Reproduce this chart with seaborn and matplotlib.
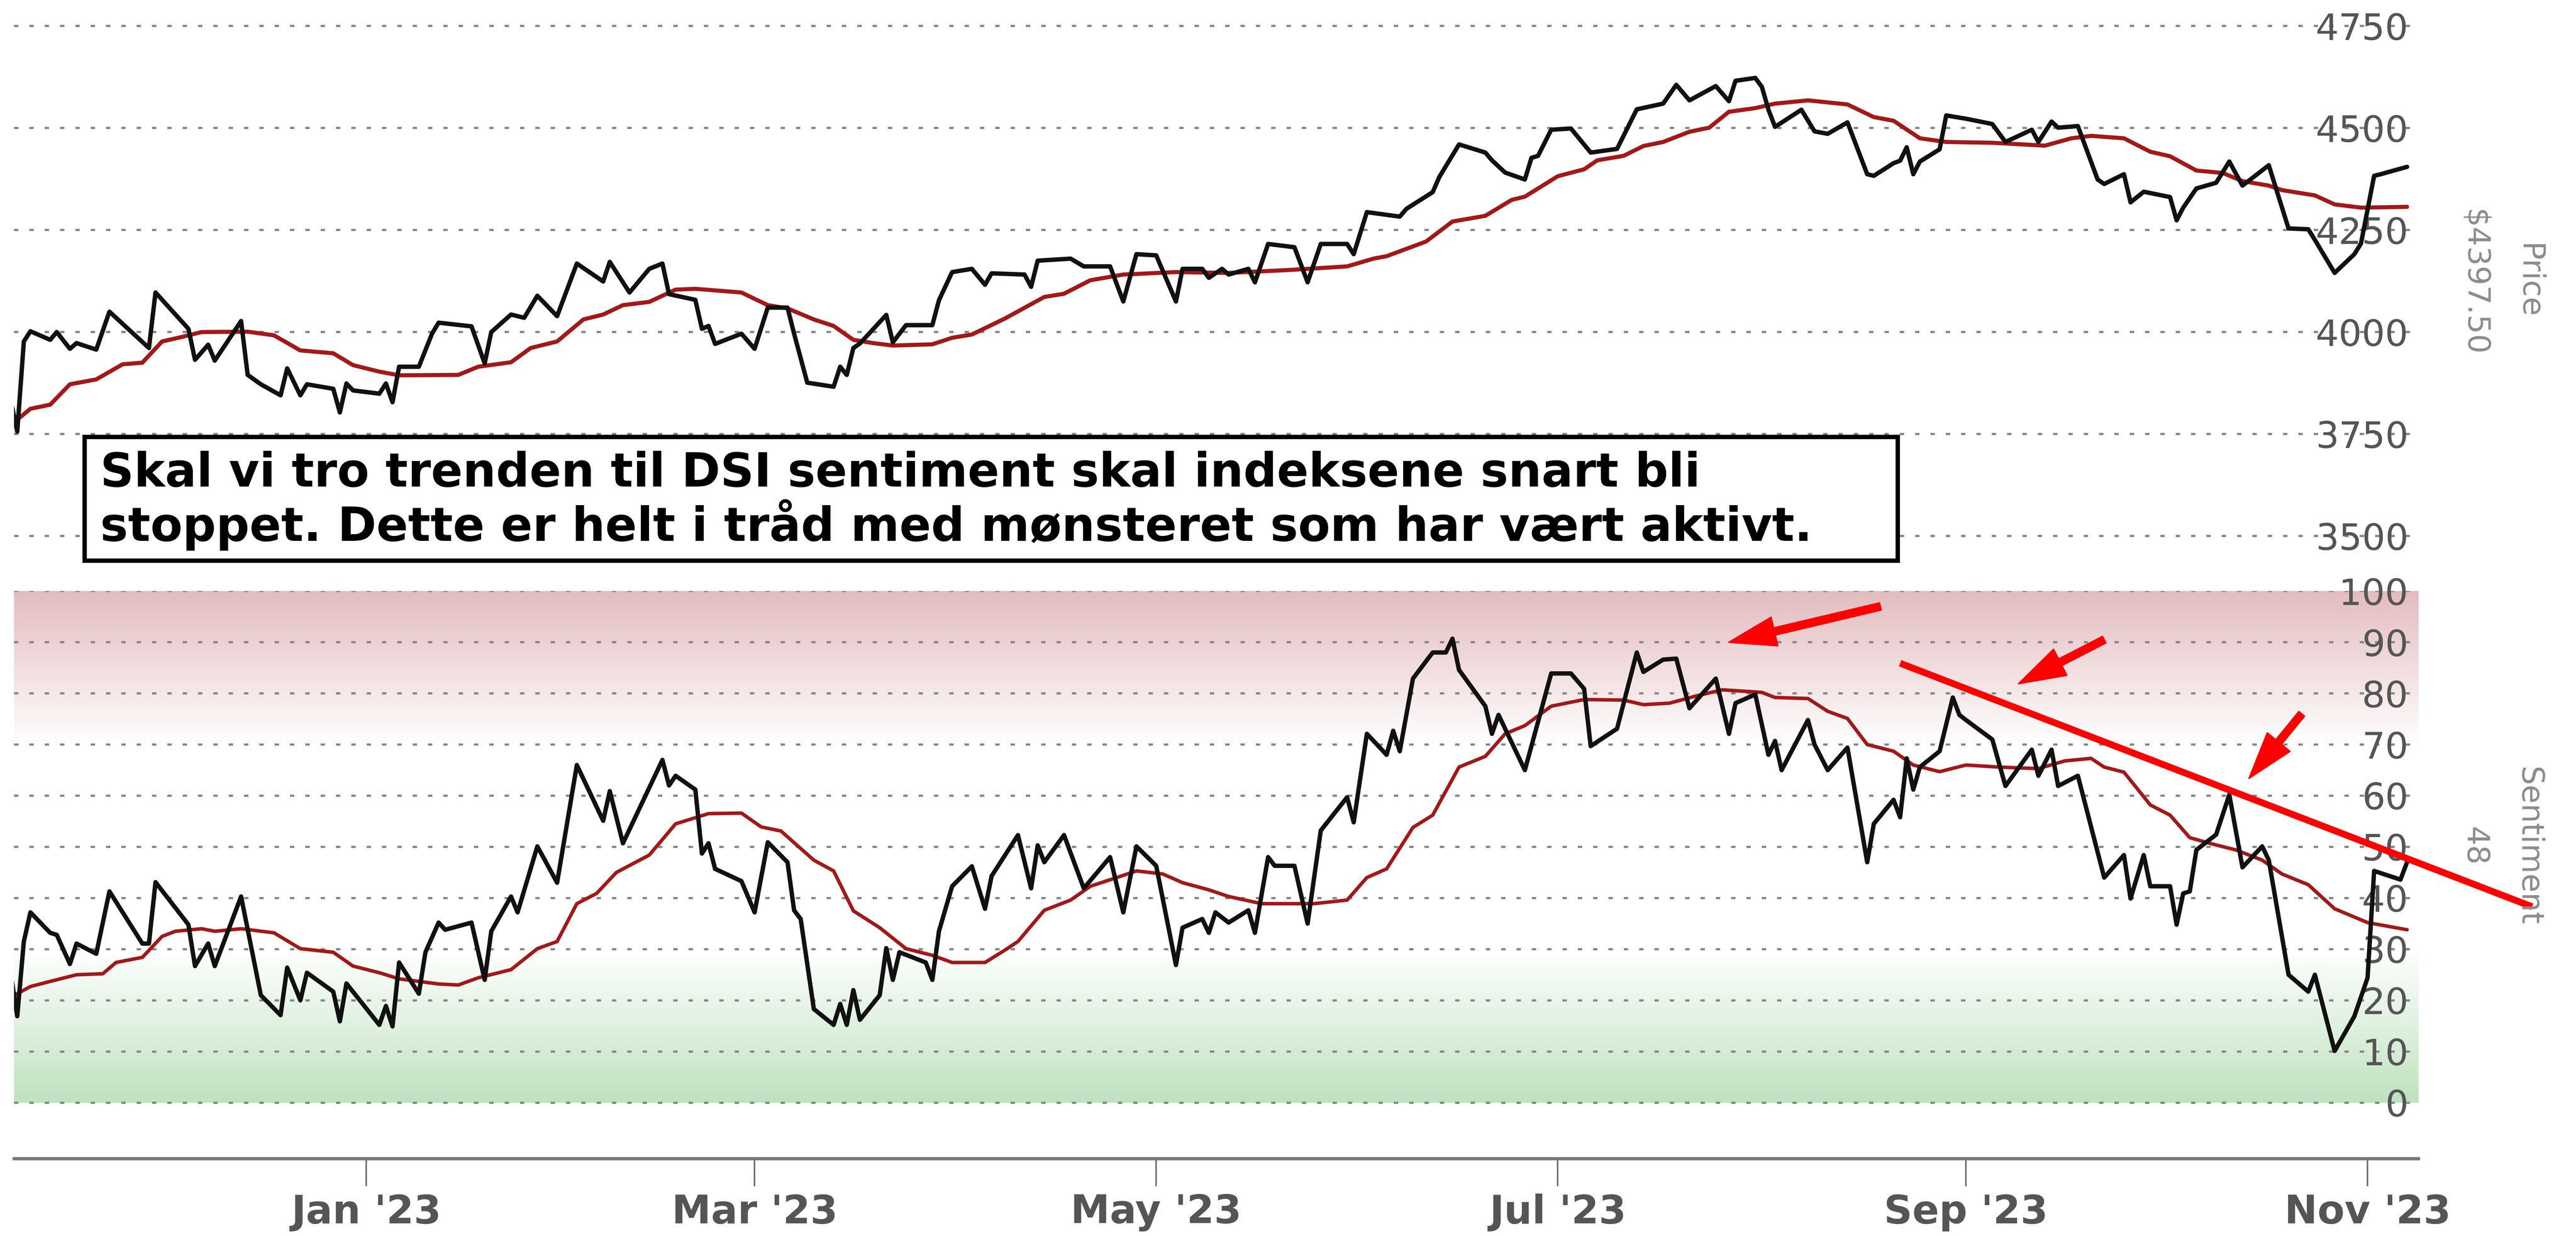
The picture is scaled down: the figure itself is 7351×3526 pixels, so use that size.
import numpy as np
import pandas as pd
import seaborn as sns
import matplotlib.pyplot as plt
import matplotlib.dates as mdates
from matplotlib.patches import Rectangle
from matplotlib.colors import LinearSegmentedColormap

# =========================
# DATA
# =========================
price_dates = [
    "2022-11-08", "2022-11-09", "2022-11-10", "2022-11-11", "2022-11-14", "2022-11-15", "2022-11-17",
    "2022-11-18", "2022-11-21", "2022-11-23", "2022-11-29", "2022-11-30", "2022-12-05", "2022-12-06",
    "2022-12-08", "2022-12-09", "2022-12-13", "2022-12-14", "2022-12-16", "2022-12-19", "2022-12-20",
    "2022-12-22", "2022-12-23", "2022-12-27", "2022-12-28", "2022-12-29", "2022-12-30", "2023-01-03",
    "2023-01-04", "2023-01-05", "2023-01-06", "2023-01-09", "2023-01-11", "2023-01-12", "2023-01-17",
    "2023-01-19", "2023-01-20", "2023-01-23", "2023-01-25", "2023-01-27", "2023-01-30", "2023-02-02",
    "2023-02-06", "2023-02-07", "2023-02-10", "2023-02-13", "2023-02-15", "2023-02-16", "2023-02-20",
    "2023-02-21", "2023-02-22", "2023-02-23", "2023-02-27", "2023-03-01", "2023-03-03", "2023-03-06",
    "2023-03-07", "2023-03-09", "2023-03-13", "2023-03-14", "2023-03-15", "2023-03-16", "2023-03-17",
    "2023-03-21", "2023-03-22", "2023-03-24", "2023-03-28", "2023-03-29", "2023-03-31", "2023-04-03",
    "2023-04-05", "2023-04-06", "2023-04-11", "2023-04-12", "2023-04-13", "2023-04-18", "2023-04-20",
    "2023-04-24", "2023-04-26", "2023-04-28", "2023-05-01", "2023-05-04", "2023-05-05", "2023-05-08",
    "2023-05-09", "2023-05-11", "2023-05-12", "2023-05-15", "2023-05-16", "2023-05-18", "2023-05-22",
    "2023-05-24", "2023-05-26", "2023-05-30", "2023-05-31", "2023-06-02", "2023-06-07", "2023-06-08",
    "2023-06-12", "2023-06-13", "2023-06-16", "2023-06-20", "2023-06-21", "2023-06-23", "2023-06-26",
    "2023-06-27", "2023-06-28", "2023-06-30", "2023-07-03", "2023-07-06", "2023-07-10", "2023-07-13",
    "2023-07-17", "2023-07-19", "2023-07-21", "2023-07-25", "2023-07-27", "2023-07-28", "2023-07-31",
    "2023-08-01", "2023-08-02", "2023-08-03", "2023-08-07", "2023-08-09", "2023-08-11", "2023-08-14",
    "2023-08-17", "2023-08-18", "2023-08-21", "2023-08-22", "2023-08-23", "2023-08-24", "2023-08-25",
    "2023-08-28", "2023-08-29", "2023-09-01", "2023-09-05", "2023-09-07", "2023-09-11", "2023-09-12",
    "2023-09-14", "2023-09-15", "2023-09-18", "2023-09-21", "2023-09-22", "2023-09-25", "2023-09-26",
    "2023-09-28", "2023-10-02", "2023-10-03", "2023-10-04", "2023-10-06", "2023-10-09", "2023-10-11",
    "2023-10-13", "2023-10-17", "2023-10-18", "2023-10-20", "2023-10-23", "2023-10-24", "2023-10-27",
    "2023-10-30", "2023-10-31", "2023-11-02", "2023-11-03", "2023-11-07",
]
price_vals = [
    3834, 3756, 3977, 4002, 3981, 4000, 3959,
    3973, 3957, 4050, 3961, 4097, 4008, 3932,
    3969, 3930, 4027, 3895, 3872, 3845, 3911,
    3845, 3872, 3861, 3803, 3874, 3857, 3849,
    3874, 3828, 3915, 3915, 3996, 4023, 4014,
    3923, 4000, 4043, 4035, 4089, 4039, 4168,
    4124, 4172, 4097, 4155, 4168, 4093, 4079,
    4008, 4015, 3971, 3996, 3959, 4060, 4060,
    3996, 3876, 3866, 3915, 3895, 3961, 3972,
    4042, 3975, 4017, 4017, 4078, 4147, 4155,
    4116, 4144, 4141, 4111, 4175, 4180, 4161,
    4161, 4075, 4191, 4188, 4075, 4155, 4155,
    4133, 4155, 4141, 4155, 4122, 4216, 4208,
    4122, 4216, 4216, 4191, 4294, 4283, 4302,
    4343, 4380, 4460, 4440, 4421, 4391, 4374,
    4427, 4432, 4496, 4499, 4440, 4449, 4546,
    4560, 4606, 4568, 4603, 4566, 4616, 4623,
    4601, 4545, 4503, 4545, 4492, 4486, 4514,
    4387, 4383, 4414, 4420, 4453, 4387, 4418,
    4448, 4531, 4523, 4510, 4466, 4496, 4466,
    4516, 4501, 4505, 4374, 4363, 4387, 4318,
    4344, 4331, 4274, 4305, 4352, 4366, 4418,
    4359, 4409, 4357, 4254, 4252, 4226, 4145,
    4191, 4217, 4383, 4387, 4405,
]

price_ma_dates = [
    "2022-11-08", "2022-11-11", "2022-11-14", "2022-11-17", "2022-11-21", "2022-11-25", "2022-11-28",
    "2022-12-01", "2022-12-04", "2022-12-07", "2022-12-14", "2022-12-18", "2022-12-22", "2022-12-27",
    "2022-12-30", "2023-01-03", "2023-01-06", "2023-01-15", "2023-01-18", "2023-01-23", "2023-01-26",
    "2023-01-30", "2023-02-03", "2023-02-06", "2023-02-09", "2023-02-13", "2023-02-17", "2023-02-20",
    "2023-02-27", "2023-03-03", "2023-03-06", "2023-03-10", "2023-03-13", "2023-03-16", "2023-03-19",
    "2023-03-22", "2023-03-28", "2023-03-31", "2023-04-03", "2023-04-08", "2023-04-14", "2023-04-17",
    "2023-04-21", "2023-04-26", "2023-05-04", "2023-05-12", "2023-05-21", "2023-05-30", "2023-06-03",
    "2023-06-05", "2023-06-11", "2023-06-15", "2023-06-20", "2023-06-24", "2023-06-26", "2023-07-01",
    "2023-07-05", "2023-07-07", "2023-07-11", "2023-07-14", "2023-07-17", "2023-07-21", "2023-07-24",
    "2023-07-27", "2023-07-31", "2023-08-03", "2023-08-08", "2023-08-14", "2023-08-18", "2023-08-21",
    "2023-08-25", "2023-08-29", "2023-09-05", "2023-09-13", "2023-09-17", "2023-09-20", "2023-09-25",
    "2023-09-29", "2023-10-02", "2023-10-06", "2023-10-10", "2023-10-13", "2023-10-17", "2023-10-19",
    "2023-10-24", "2023-10-27", "2023-10-31", "2023-11-07",
]
price_ma_vals = [
    3772, 3812, 3822, 3872, 3884, 3921, 3925,
    3977, 3988, 4000, 4001, 3992, 3955, 3948,
    3919, 3903, 3894, 3895, 3915, 3926, 3961,
    3977, 4031, 4043, 4066, 4074, 4104, 4106,
    4097, 4066, 4058, 4031, 4015, 3981, 3973,
    3967, 3970, 3986, 3994, 4033, 4086, 4094,
    4127, 4141, 4147, 4145, 4152, 4161, 4180,
    4186, 4222, 4271, 4285, 4324, 4332, 4382,
    4399, 4421, 4432, 4456, 4466, 4491, 4501,
    4540, 4549, 4560, 4568, 4558, 4527, 4518,
    4475, 4466, 4464, 4457, 4475, 4481, 4475,
    4442, 4431, 4396, 4390, 4370, 4359, 4348,
    4335, 4313, 4305, 4307,
]

sent_dates = [
    "2022-11-08", "2022-11-09", "2022-11-10", "2022-11-11", "2022-11-14", "2022-11-15", "2022-11-17",
    "2022-11-18", "2022-11-21", "2022-11-23", "2022-11-28", "2022-11-29", "2022-11-30", "2022-12-05",
    "2022-12-06", "2022-12-08", "2022-12-09", "2022-12-13", "2022-12-16", "2022-12-19", "2022-12-20",
    "2022-12-22", "2022-12-23", "2022-12-27", "2022-12-28", "2022-12-29", "2023-01-03", "2023-01-04",
    "2023-01-05", "2023-01-06", "2023-01-09", "2023-01-10", "2023-01-12", "2023-01-13", "2023-01-17",
    "2023-01-19", "2023-01-20", "2023-01-23", "2023-01-24", "2023-01-27", "2023-01-30", "2023-02-02",
    "2023-02-06", "2023-02-07", "2023-02-09", "2023-02-15", "2023-02-16", "2023-02-17", "2023-02-20",
    "2023-02-21", "2023-02-22", "2023-02-23", "2023-02-27", "2023-03-01", "2023-03-03", "2023-03-06",
    "2023-03-07", "2023-03-08", "2023-03-10", "2023-03-13", "2023-03-14", "2023-03-15", "2023-03-16",
    "2023-03-17", "2023-03-20", "2023-03-21", "2023-03-22", "2023-03-23", "2023-03-27", "2023-03-28",
    "2023-03-29", "2023-03-31", "2023-04-03", "2023-04-05", "2023-04-06", "2023-04-10", "2023-04-12",
    "2023-04-13", "2023-04-14", "2023-04-17", "2023-04-20", "2023-04-24", "2023-04-26", "2023-04-28",
    "2023-05-01", "2023-05-04", "2023-05-05", "2023-05-08", "2023-05-09", "2023-05-10", "2023-05-12",
    "2023-05-15", "2023-05-16", "2023-05-18", "2023-05-19", "2023-05-22", "2023-05-24", "2023-05-26",
    "2023-05-30", "2023-05-31", "2023-06-02", "2023-06-05", "2023-06-06", "2023-06-07", "2023-06-09",
    "2023-06-12", "2023-06-14", "2023-06-15", "2023-06-16", "2023-06-20", "2023-06-21", "2023-06-22",
    "2023-06-26", "2023-06-30", "2023-07-03", "2023-07-05", "2023-07-06", "2023-07-10", "2023-07-13",
    "2023-07-14", "2023-07-17", "2023-07-19", "2023-07-21", "2023-07-25", "2023-07-27", "2023-07-28",
    "2023-07-31", "2023-08-02", "2023-08-03", "2023-08-04", "2023-08-08", "2023-08-09", "2023-08-11",
    "2023-08-14", "2023-08-17", "2023-08-18", "2023-08-21", "2023-08-22", "2023-08-23", "2023-08-24",
    "2023-08-25", "2023-08-28", "2023-08-30", "2023-08-31", "2023-09-01", "2023-09-05", "2023-09-07",
    "2023-09-11", "2023-09-12", "2023-09-14", "2023-09-15", "2023-09-18", "2023-09-22", "2023-09-25",
    "2023-09-26", "2023-09-28", "2023-09-29", "2023-10-02", "2023-10-03", "2023-10-04", "2023-10-05",
    "2023-10-06", "2023-10-09", "2023-10-11", "2023-10-13", "2023-10-16", "2023-10-17", "2023-10-20",
    "2023-10-23", "2023-10-24", "2023-10-27", "2023-10-30", "2023-11-01", "2023-11-02", "2023-11-06",
    "2023-11-07",
]
sent_vals = [
    25.4, 16.9, 31.5, 37.2, 33.2, 32.8, 27.1,
    31.1, 29.1, 41.3, 31.1, 31.1, 43.1, 34.8,
    26.7, 31.1, 26.7, 40.3, 21.0, 17.1, 26.4,
    20.0, 25.4, 21.7, 15.9, 23.3, 15.2, 18.9,
    14.9, 27.4, 21.3, 29.4, 35.2, 33.8, 35.2,
    24.0, 33.5, 40.3, 37.2, 50.1, 43.0, 66.0,
    55.1, 60.9, 50.7, 67.0, 62.0, 63.9, 61.2,
    48.7, 50.7, 45.7, 43.3, 37.2, 50.9, 47.0,
    37.6, 35.9, 18.3, 15.2, 19.3, 15.2, 22.0,
    16.2, 21.0, 30.2, 24.0, 29.4, 27.4, 24.0,
    33.5, 42.3, 46.2, 37.9, 44.3, 52.3, 41.9,
    50.3, 47.0, 52.3, 41.9, 48.0, 37.2, 50.1,
    46.3, 26.9, 34.2, 35.9, 33.2, 37.2, 35.2,
    37.6, 33.2, 48.0, 46.3, 46.3, 35.0, 53.2,
    59.7, 54.8, 72.1, 68.0, 72.7, 68.7, 82.9,
    88.0, 88.0, 90.7, 84.6, 77.5, 72.1, 75.8,
    65.0, 83.9, 83.9, 80.9, 69.7, 73.1, 88.0,
    84.2, 86.6, 86.8, 77.1, 82.9, 72.1, 78.1,
    79.8, 68.0, 70.7, 65.0, 74.8, 70.0, 65.0,
    69.4, 47.0, 54.5, 59.2, 55.8, 67.3, 61.2,
    65.6, 68.7, 79.2, 75.8, 74.8, 71.0, 61.9,
    69.0, 63.9, 69.0, 61.9, 63.9, 44.0, 48.4,
    39.9, 48.4, 42.3, 42.3, 34.8, 40.9, 41.3,
    49.4, 52.4, 60.2, 46.0, 50.1, 47.4, 25.0,
    21.7, 25.0, 10.1, 16.9, 24.4, 45.3, 43.6,
    47.0,
]

sent_ma_dates = [
    "2022-11-08", "2022-11-11", "2022-11-14", "2022-11-18", "2022-11-22", "2022-11-24", "2022-11-28",
    "2022-12-01", "2022-12-03", "2022-12-07", "2022-12-09", "2022-12-13", "2022-12-18", "2022-12-22",
    "2022-12-27", "2022-12-30", "2023-01-03", "2023-01-06", "2023-01-12", "2023-01-15", "2023-01-18",
    "2023-01-23", "2023-01-27", "2023-01-30", "2023-02-02", "2023-02-05", "2023-02-08", "2023-02-13",
    "2023-02-17", "2023-02-22", "2023-02-27", "2023-03-02", "2023-03-05", "2023-03-10", "2023-03-13",
    "2023-03-16", "2023-03-20", "2023-03-24", "2023-03-28", "2023-03-31", "2023-04-05", "2023-04-08",
    "2023-04-10", "2023-04-14", "2023-04-18", "2023-04-21", "2023-04-25", "2023-04-28", "2023-05-02",
    "2023-05-05", "2023-05-09", "2023-05-12", "2023-05-17", "2023-05-25", "2023-05-30", "2023-06-02",
    "2023-06-05", "2023-06-09", "2023-06-12", "2023-06-16", "2023-06-20", "2023-06-23", "2023-06-26",
    "2023-06-30", "2023-07-05", "2023-07-11", "2023-07-14", "2023-07-18", "2023-07-22", "2023-07-26",
    "2023-08-01", "2023-08-03", "2023-08-08", "2023-08-11", "2023-08-14", "2023-08-17", "2023-08-21",
    "2023-08-24", "2023-08-28", "2023-09-01", "2023-09-06", "2023-09-12", "2023-09-16", "2023-09-20",
    "2023-09-22", "2023-09-25", "2023-09-29", "2023-10-02", "2023-10-05", "2023-10-08", "2023-10-12",
    "2023-10-16", "2023-10-19", "2023-10-23", "2023-10-27", "2023-11-01", "2023-11-07",
]
sent_ma_vals = [
    20.6, 22.7, 23.7, 25.0, 25.2, 27.4, 28.4,
    32.5, 33.5, 34.0, 33.5, 34.0, 33.2, 30.1,
    29.4, 26.7, 25.4, 24.2, 23.2, 23.0, 24.4,
    26.0, 30.1, 31.5, 38.9, 40.9, 45.0, 48.4,
    54.5, 56.5, 56.6, 53.9, 53.1, 47.4, 45.3,
    37.5, 34.2, 30.1, 28.8, 27.4, 27.4, 29.8,
    31.5, 37.6, 39.6, 42.3, 44.0, 45.3, 44.7,
    43.0, 41.6, 40.3, 38.9, 38.9, 39.6, 44.0,
    45.7, 53.8, 56.2, 65.6, 67.7, 72.1, 73.7,
    77.5, 78.8, 78.7, 77.8, 78.1, 79.5, 80.7,
    80.2, 79.2, 79.0, 76.5, 75.1, 70.0, 68.7,
    66.0, 64.7, 66.0, 65.6, 65.3, 66.8, 67.3,
    65.6, 64.6, 58.2, 56.2, 51.8, 50.7, 49.4,
    47.4, 44.7, 42.6, 37.9, 35.2, 33.8,
]

price_ticks = [3500, 3750, 4000, 4250, 4500, 4750]
sent_ticks = [0, 10, 20, 30, 40, 50, 60, 70, 80, 90, 100]

last_price_label = "\\$4397.50"
last_sent_label = "48"

note_lines = [
    "Skal vi tro trenden til DSI sentiment skal indeksene snart bli",
    "stoppet. Dette er helt i tråd med mønsteret som har vært aktivt.",
]

# hand drawn marks on the sentiment panel (date, value)
arrow_tails = [("2023-08-19", 97.0), ("2023-09-22", 90.5), ("2023-10-22", 76.0)]
arrow_tips = [("2023-07-27", 90.0), ("2023-09-09", 81.9), ("2023-10-14", 63.4)]
trend_dates = ["2023-08-22", "2023-11-26"]
trend_vals = [85.9, 38.3]

# =========================
# STYLE
# =========================
sns.set_style("white")
plt.rcParams['font.family'] = ['DejaVu Sans']

BLACK = "#111111"
MA_RED = "#a31818"
GRID = "#858585"
TICK_TXT = "#555555"
SIDE_TXT = "#8c8c8c"

x_start = pd.Timestamp("2022-11-08 12:00")
x_end = pd.Timestamp("2023-11-08 17:00")

fig = plt.figure(figsize=(7351 / 300, 3526 / 300), dpi=300)
fig.patch.set_facecolor("white")

ax_p = fig.add_axes([0.00542, 0.5465, 0.93336, 0.4535])
ax_s = fig.add_axes([0.00542, 0.06277, 0.93336, 0.4590])

price_df = pd.DataFrame({"date": pd.to_datetime(price_dates), "value": price_vals})
price_ma_df = pd.DataFrame({"date": pd.to_datetime(price_ma_dates), "value": price_ma_vals})
sent_df = pd.DataFrame({"date": pd.to_datetime(sent_dates), "value": sent_vals})
sent_ma_df = pd.DataFrame({"date": pd.to_datetime(sent_ma_dates), "value": sent_ma_vals})

# =========================
# Price panel
# =========================
sns.lineplot(data=price_ma_df, x="date", y="value", ax=ax_p, color=MA_RED, linewidth=2.8, zorder=3)
sns.lineplot(data=price_df, x="date", y="value", ax=ax_p, color=BLACK, linewidth=3.0, zorder=4)

for v in price_ticks:
    ax_p.axhline(v, xmin=0, xmax=0.9966, color=GRID, lw=1.5, ls=(0, (2, 5)), zorder=1)
    ax_p.text(0.9959, v, f"{v}", transform=ax_p.get_yaxis_transform(), ha="right",
              va="center_baseline", fontsize=25, color=TICK_TXT, zorder=2)

ax_p.set_xlim(x_start, x_end)
ax_p.set_ylim(3440, 4814)
ax_p.set_xlabel("")
ax_p.set_ylabel("")
ax_p.set_xticks([])
ax_p.set_yticks([])
for sp in ax_p.spines.values():
    sp.set_visible(False)

# =========================
# Sentiment panel
# =========================
xn0, xn1 = mdates.date2num(x_start), mdates.date2num(x_end)
grad = np.linspace(0, 1, 256).reshape(-1, 1)
red_cmap = LinearSegmentedColormap.from_list("hot_zone", ["#ffffff", "#e3bcbf"])
green_cmap = LinearSegmentedColormap.from_list("cold_zone", ["#bfe2bf", "#ffffff"])
ax_s.imshow(grad, cmap=red_cmap, aspect="auto", origin="lower", extent=(xn0, xn1, 70, 100), zorder=0)
ax_s.imshow(grad, cmap=green_cmap, aspect="auto", origin="lower", extent=(xn0, xn1, 0, 30), zorder=0)

for v in sent_ticks:
    ax_s.axhline(v, xmin=0, xmax=0.9966, color=GRID, lw=1.5, ls=(0, (2, 5)), zorder=1)
    ax_s.text(0.9959, v, f"{v}", transform=ax_s.get_yaxis_transform(), ha="right",
              va="center_baseline", fontsize=25, color=TICK_TXT, zorder=2)

sns.lineplot(data=sent_ma_df, x="date", y="value", ax=ax_s, color=MA_RED, linewidth=2.4, zorder=3)
sns.lineplot(data=sent_df, x="date", y="value", ax=ax_s, color=BLACK, linewidth=3.0, zorder=4)

# red arrows and trend line
for (td, tv), (hd, hv) in zip(arrow_tails, arrow_tips):
    ax_s.annotate("", xy=(pd.Timestamp(hd), hv), xytext=(pd.Timestamp(td), tv),
                  arrowprops=dict(arrowstyle="simple,head_length=3.2,head_width=2.0,tail_width=0.5",
                                  color="#ff0000", mutation_scale=10, shrinkA=0, shrinkB=0),
                  annotation_clip=False, zorder=6)
ax_s.plot(pd.to_datetime(trend_dates), trend_vals, color="#ff0000", lw=4.6,
          solid_capstyle="butt", clip_on=False, zorder=6)

ax_s.set_xlim(x_start, x_end)
ax_s.set_ylim(-10.9, 100)
ax_s.set_xlabel("")
ax_s.set_ylabel("")
ax_s.set_yticks([])
ax_s.xaxis.set_major_locator(mdates.MonthLocator(bymonth=[1, 3, 5, 7, 9, 11]))
ax_s.xaxis.set_major_formatter(mdates.DateFormatter("%b '%y"))
ax_s.tick_params(axis="x", direction="out", length=19, width=1.0, color="#666666",
                 pad=5, labelsize=27, labelcolor=TICK_TXT, bottom=True)
for lab in ax_s.get_xticklabels():
    lab.set_fontweight("bold")
for name, sp in ax_s.spines.items():
    sp.set_visible(name == "bottom")
ax_s.spines["bottom"].set_color("#777777")
ax_s.spines["bottom"].set_linewidth(2.2)

# =========================
# Side labels
# =========================
fig.text(1506 / 1568, 1 - 172 / 752, last_price_label, rotation=270, ha="center", va="center",
         fontsize=21, color=SIDE_TXT)
fig.text(1539 / 1568, 1 - 171 / 752, "Price", rotation=270, ha="center", va="center",
         fontsize=21, color=SIDE_TXT)
fig.text(1506 / 1568, 1 - 515 / 752, last_sent_label, rotation=270, ha="center", va="center",
         fontsize=21, color=SIDE_TXT)
fig.text(1539 / 1568, 1 - 515 / 752, "Sentiment", rotation=270, ha="center", va="center",
         fontsize=21, color=SIDE_TXT)

# =========================
# Comment box
# =========================
box = Rectangle((51.3 / 1568, 1 - 341 / 752), (1155 - 51.3) / 1568, (341 - 265.7) / 752,
                transform=fig.transFigure, facecolor="white", edgecolor="black", lw=3.0, zorder=5)
fig.patches.append(box)
fig.text(61 / 1568, 1 - 296 / 752, note_lines[0], ha="left", va="baseline", fontsize=32,
         fontweight="bold", color="black", zorder=6)
fig.text(61 / 1568, 1 - 329 / 752, note_lines[1], ha="left", va="baseline", fontsize=32,
         fontweight="bold", color="black", zorder=6)

fig.savefig("out.png", dpi=300, facecolor="white")
